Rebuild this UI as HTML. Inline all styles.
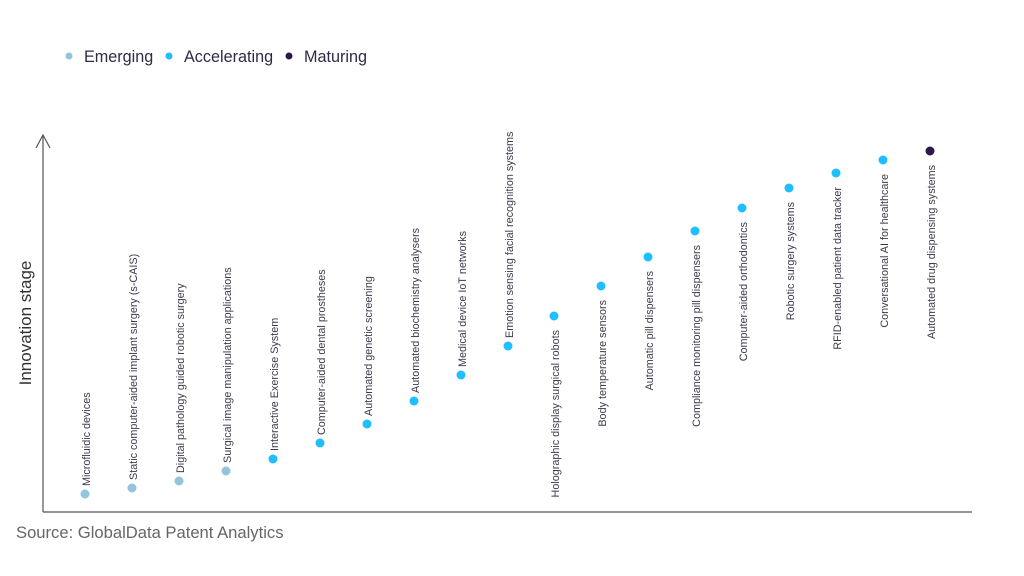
<!DOCTYPE html>
<html><head><meta charset="utf-8"><style>
html,body{margin:0;padding:0;background:#fff;}
svg{display:block;font-family:"Liberation Sans",sans-serif;}
</style></head><body>
<svg width="1024" height="576" viewBox="0 0 1024 576">
<g font-size="16.2" fill="#2d2b45">
<circle cx="69" cy="56" r="3.5" fill="#92c5dc"/><text x="84" y="62">Emerging</text>
<circle cx="169" cy="56" r="3.5" fill="#1fbfff"/><text x="184" y="62">Accelerating</text>
<circle cx="289" cy="56" r="3.5" fill="#2a1a4a"/><text x="304" y="62">Maturing</text>
</g>
<g stroke="#555" stroke-width="1.2" fill="none">
<line x1="43" y1="135" x2="43" y2="512"/>
<line x1="43" y1="512" x2="972" y2="512"/>
<polyline points="36,148 43,135 50,148"/>
</g>
<text transform="translate(31,323) rotate(-90)" text-anchor="middle" font-size="17" fill="#333">Innovation stage</text>
<text x="16" y="538" font-size="16.6" fill="#666">Source: GlobalData Patent Analytics</text>
<g font-size="10.8" fill="#3a3a4a">
<circle cx="85" cy="494" r="4.5" fill="#92c5dc"/><text transform="translate(90,486) rotate(-90)">Microfluidic devices</text>
<circle cx="132" cy="488" r="4.5" fill="#92c5dc"/><text transform="translate(137,480) rotate(-90)">Static computer-aided implant surgery (s-CAIS)</text>
<circle cx="179" cy="481" r="4.5" fill="#92c5dc"/><text transform="translate(184,473) rotate(-90)">Digital pathology guided robotic surgery</text>
<circle cx="226" cy="471" r="4.5" fill="#92c5dc"/><text transform="translate(231,463) rotate(-90)">Surgical image manipulation applications</text>
<circle cx="273" cy="459" r="4.5" fill="#1fbfff"/><text transform="translate(278,451) rotate(-90)">Interactive Exercise System</text>
<circle cx="320" cy="443" r="4.5" fill="#1fbfff"/><text transform="translate(325,435) rotate(-90)">Computer-aided dental prostheses</text>
<circle cx="367" cy="424" r="4.5" fill="#1fbfff"/><text transform="translate(372,416) rotate(-90)">Automated genetic screening</text>
<circle cx="414" cy="401" r="4.5" fill="#1fbfff"/><text transform="translate(419,393) rotate(-90)">Automated biochemistry analysers</text>
<circle cx="461" cy="375" r="4.5" fill="#1fbfff"/><text transform="translate(466,367) rotate(-90)">Medical device IoT networks</text>
<circle cx="508" cy="346" r="4.5" fill="#1fbfff"/><text transform="translate(513,338) rotate(-90)">Emotion sensing facial recognition systems</text>
<circle cx="554" cy="316" r="4.5" fill="#1fbfff"/><text transform="translate(559,330) rotate(-90)" text-anchor="end">Holographic display surgical robots</text>
<circle cx="601" cy="286" r="4.5" fill="#1fbfff"/><text transform="translate(606,300) rotate(-90)" text-anchor="end">Body temperature sensors</text>
<circle cx="648" cy="257" r="4.5" fill="#1fbfff"/><text transform="translate(653,271) rotate(-90)" text-anchor="end">Automatic pill dispensers</text>
<circle cx="695" cy="231" r="4.5" fill="#1fbfff"/><text transform="translate(700,245) rotate(-90)" text-anchor="end">Compliance monitoring pill dispensers</text>
<circle cx="742" cy="208" r="4.5" fill="#1fbfff"/><text transform="translate(747,222) rotate(-90)" text-anchor="end">Computer-aided orthodontics</text>
<circle cx="789" cy="188" r="4.5" fill="#1fbfff"/><text transform="translate(794,202) rotate(-90)" text-anchor="end">Robotic surgery systems</text>
<circle cx="836" cy="173" r="4.5" fill="#1fbfff"/><text transform="translate(841,187) rotate(-90)" text-anchor="end">RFID-enabled patient data tracker</text>
<circle cx="883" cy="160" r="4.5" fill="#1fbfff"/><text transform="translate(888,174) rotate(-90)" text-anchor="end">Conversational AI for healthcare</text>
<circle cx="930" cy="151" r="4.5" fill="#2a1a4a"/><text transform="translate(935,165) rotate(-90)" text-anchor="end">Automated drug dispensing systems</text>
</g>
</svg>
</body></html>
